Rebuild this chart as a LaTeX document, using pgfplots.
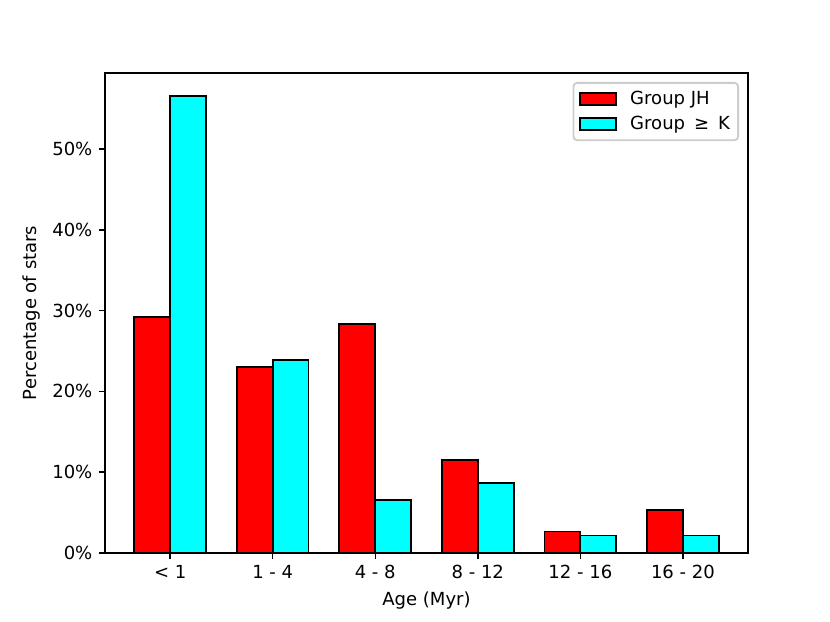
\documentclass[border=0pt]{standalone}
\usepackage{fontspec}
\setmainfont{DejaVu Sans}
\usepackage{pgfplots}
\pgfplotsset{compat=1.18}
\definecolor{mplcyan}{RGB}{0,255,255}
\definecolor{mplred}{RGB}{255,0,0}
\begin{document}
\begin{tikzpicture}
\begin{axis}[name=ax, at={(0,0)}, anchor=south west,
  scale only axis, width=356.9pt, height=266.4pt,
  xmin=-0.635, xmax=5.635, ymin=0, ymax=59.43,
  xtick={0,1,2,3,4,5},
  xticklabels={< 1, 1 - 4, 4 - 8, 8 - 12, 12 - 16, 16 - 20},
  ytick={0,10,20,30,40,50},
  yticklabels={0\%,10\%,20\%,30\%,40\%,50\%},
  tick align=outside, tick pos=left, major tick length=3.5pt,
  axis line style={line width=0.8pt, black},
  every tick/.style={line width=0.8pt, black},
  tick label style={font=\fontsize{10}{12}\selectfont},
  label style={font=\fontsize{10}{12}\selectfont},
  xlabel={Age (Myr)}, ylabel={Percentage of stars},
  legend style={at={(1,1)}, anchor=north east, xshift=-5pt, yshift=-5pt,
    draw={rgb,1:red,0.8;green,0.8;blue,0.8}, rounded corners=2pt, line width=1pt,
    fill=white, inner xsep=3pt, inner ysep=3pt, row sep=2pt,
    font=\fontsize{10}{12}\selectfont,
    nodes={inner sep=1.5pt},
    /tikz/every odd column/.append style={column sep=6pt}},
  legend cell align=left,
  legend image code/.code={\draw[#1, line width=1pt, sharp corners] (0pt,-3.5pt) rectangle (20pt,3.5pt);},
]
\addplot[ybar, bar width=0.35, bar shift=0pt, fill=mplred, draw=black, line width=1pt]
  coordinates {(-0.175,29.2) (0.825,23.0) (1.825,28.3) (2.825,11.5) (3.825,2.65) (4.825,5.3)};
\addplot[ybar, bar width=0.35, bar shift=0pt, fill=mplcyan, draw=black, line width=1pt]
  coordinates {(0.175,56.6) (1.175,23.9) (2.175,6.6) (3.175,8.7) (4.175,2.16) (5.175,2.16)};
\legend{Group JH, Group\hspace{5pt}≥\hspace{5pt}K}
\end{axis}
\path[use as bounding box] ([shift={(-58.3pt,-38.3pt)}]ax.south west) rectangle ([shift={(45.5pt,40.5pt)}]ax.north east);
\end{tikzpicture}
\end{document}
